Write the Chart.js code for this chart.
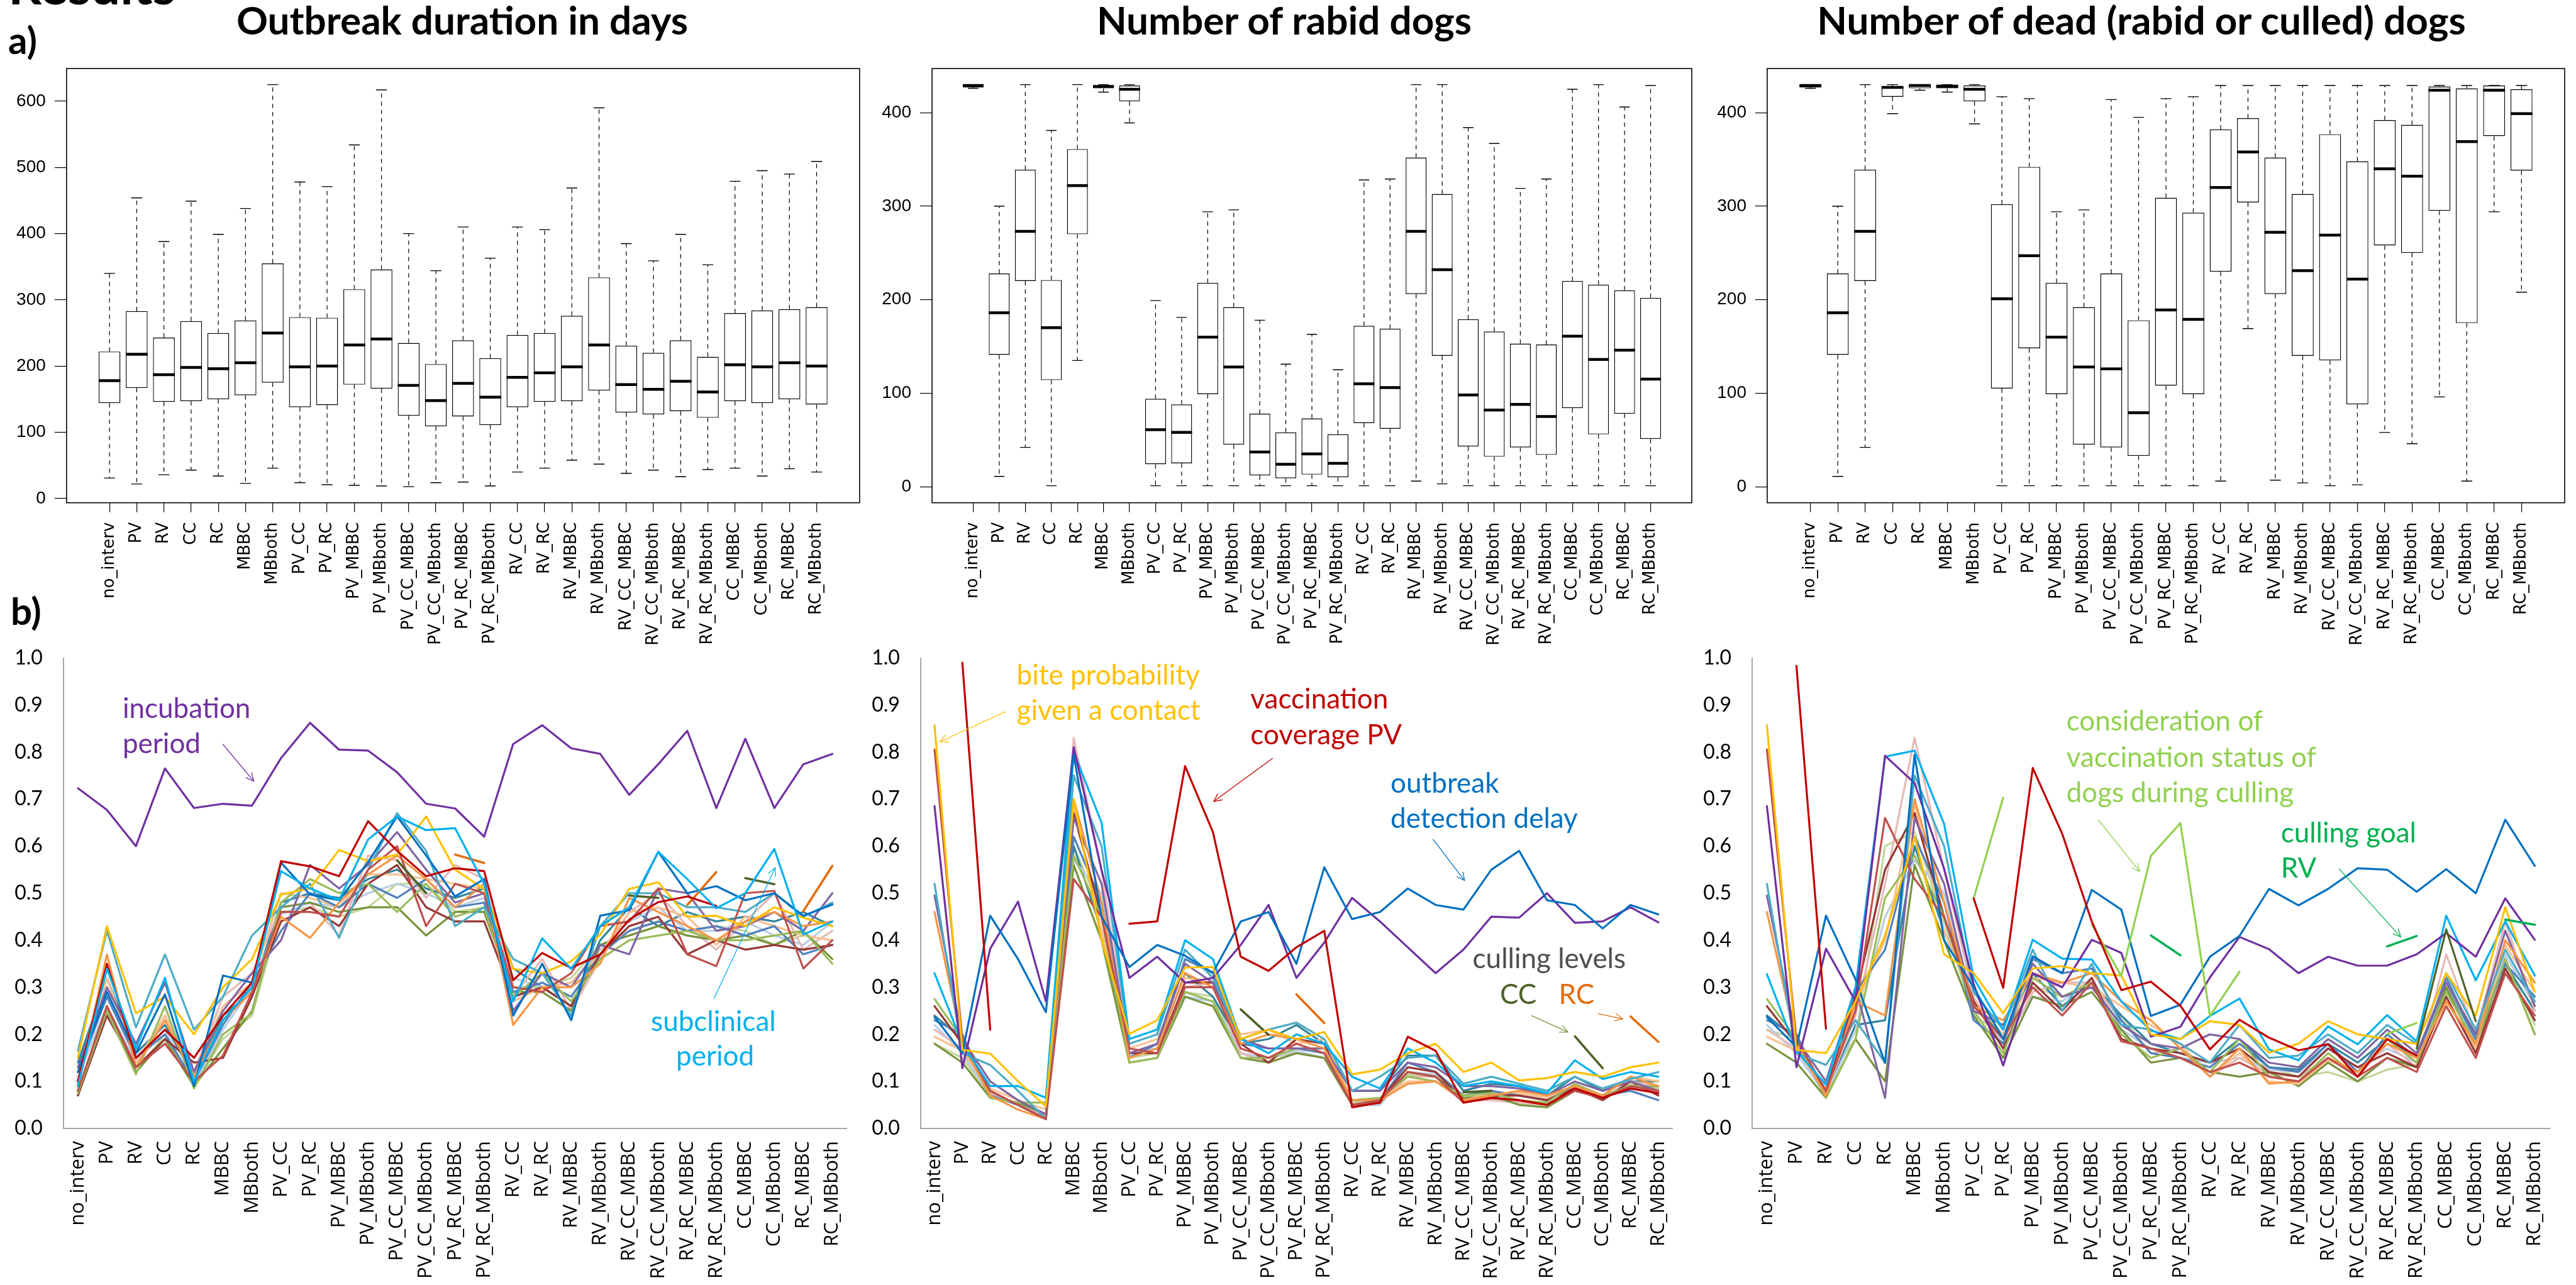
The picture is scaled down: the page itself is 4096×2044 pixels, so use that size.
<!DOCTYPE html>
<html>
<head>
<meta charset="utf-8">
<script src="https://cdn.jsdelivr.net/npm/chart.js"></script>
<style>
  body { margin:0; width:4096px; height:2044px; position:relative; background:#fff; overflow:hidden; }
  canvas { position:absolute; }
  .lbl { position:absolute; font-family:Lato; font-weight:700; color:#000; line-height:1; white-space:nowrap; }
  .ttl { position:absolute; font-family:Lato; font-weight:700; color:#000; line-height:1; white-space:nowrap; text-align:center; width:1400px; font-size:62px; top:0px; }
</style>
</head>
<body>
<div class="lbl" style="left:13px;top:-66px;font-size:83px">Results</div>
<div class="lbl" style="left:13px;top:33px;font-size:60px">a)</div>
<div class="lbl" style="left:17px;top:941px;font-size:60px">b)</div>
<div class="ttl" style="left:35px">Outbreak duration in days</div>
<div class="ttl" style="left:1342px">Number of rabid dogs</div>
<div class="ttl" style="left:2705px">Number of dead (rabid or culled) dogs</div>

<canvas id="c1" width="1420" height="1000" style="left:0px;top:60px"></canvas>
<canvas id="c2" width="1370" height="1000" style="left:1380px;top:60px"></canvas>
<canvas id="c3" width="1376" height="1000" style="left:2720px;top:60px"></canvas>
<canvas id="c4" width="1380" height="1044" style="left:0px;top:1000px"></canvas>
<canvas id="c5" width="1340" height="1044" style="left:1370px;top:1000px"></canvas>
<canvas id="c6" width="1396" height="1044" style="left:2700px;top:1000px"></canvas>

<script>
const categories = ['no_interv','PV','RV','CC','RC','MBBC','MBboth','PV_CC','PV_RC','PV_MBBC','PV_MBboth',
  'PV_CC_MBBC','PV_CC_MBboth','PV_RC_MBBC','PV_RC_MBboth','RV_CC','RV_RC','RV_MBBC','RV_MBboth',
  'RV_CC_MBBC','RV_CC_MBboth','RV_RC_MBBC','RV_RC_MBboth','CC_MBBC','CC_MBboth','RC_MBBC','RC_MBboth'];

// a) box plots: whisker low, lower quartile, median, upper quartile, whisker high
const durLow  = [31,22,36,43,34,23,46,24,21,20,19,18,24,25,19,40,46,58,52,38,43,33,44,46,34,45,40];
const durQ1   = [144,167,146,147,150,156,175,138,141,172,166,125,109,124,111,138,146,147,163,130,127,132,122,147,144,150,142];
const durMed  = [178,218,187,198,196,205,250,199,200,232,241,171,148,174,153,183,190,199,232,172,165,177,161,202,199,205,200];
const durQ3   = [222,283,243,268,250,269,355,274,273,316,346,235,203,239,212,247,250,276,334,231,220,239,214,280,284,286,289];
const durHigh = [340,454,388,449,399,438,625,478,471,534,617,400,344,410,363,410,406,469,590,385,359,399,353,479,495,490,509];
const durTicks = [0,100,200,300,400,500,600];

const rabLow  = [426,11,42,1,135,422,389,1,1,1,1,1,1,1,1,1,1,6,3,1,1,1,1,1,1,1,1];
const rabQ1   = [427,141,220,114,270,426,412,24,25,99,45,12,9,13,10,68,62,206,140,43,32,42,34,84,56,78,51];
const rabMed  = [429,186,273,170,322,428,425,61,58,160,128,37,24,35,25,110,106,273,232,98,82,88,75,161,136,146,115];
const rabQ3   = [430,228,339,221,361,429,429,94,88,218,192,78,58,73,56,172,169,352,313,179,166,153,152,220,216,210,202];
const rabHigh = [430,300,430,381,430,430,430,199,181,294,296,178,131,163,125,328,329,430,430,384,367,319,329,425,430,406,429];

const deadLow  = [426,11,42,399,424,422,388,1,1,1,1,1,1,1,1,6,169,7,4,1,2,58,46,96,6,294,208];
const deadQ1   = [427,141,220,417,426,426,412,105,148,99,45,42,33,108,99,230,304,206,140,135,88,258,250,295,175,375,338];
const deadMed  = [429,186,273,427,429,428,425,201,247,160,128,126,79,189,179,320,358,272,231,269,222,340,332,424,369,424,399];
const deadQ3   = [430,228,339,428,430,430,429,302,342,218,192,228,178,309,293,382,394,352,313,377,348,392,387,428,426,429,425];
const deadHigh = [430,300,430,430,430,430,430,417,415,294,296,414,395,415,417,429,429,429,429,429,429,429,429,429,429,429,429];
const dogTicks = [0,100,200,300,400];

// b) sensitivity lines, outbreak duration
const durIncub = [0.723,0.677,0.600,0.765,0.681,0.690,0.686,0.787,0.862,0.805,0.803,0.757,0.690,0.680,0.620,0.817,0.857,0.808,0.796,0.709,0.774,0.845,0.681,0.828,0.681,0.774,0.796];
const durSubcl = [0.09,0.34,0.17,0.32,0.10,0.23,0.30,0.547,0.51,0.485,0.614,0.663,0.634,0.638,0.52,0.27,0.404,0.339,0.43,0.47,0.588,0.53,0.468,0.50,0.594,0.412,0.44];
const durRed   = [0.10,0.35,0.15,0.21,0.15,0.24,0.31,0.568,0.557,0.536,0.653,0.59,0.536,0.553,0.547,0.315,0.373,0.341,0.37,0.444,0.481,0.493,0.473,null,null,null,null];
const durBlue  = [0.12,0.29,0.16,0.285,0.09,0.325,0.31,0.565,0.497,0.485,0.566,0.663,0.58,0.493,0.53,0.24,0.35,0.23,0.452,0.464,0.588,0.50,0.515,0.485,0.50,0.452,0.476];
const durGold  = [0.15,0.43,0.245,0.28,0.20,0.30,0.36,0.497,0.51,0.592,0.568,0.582,0.663,0.55,0.509,0.339,0.33,0.355,0.412,0.509,0.523,0.45,0.452,0.43,0.47,0.448,0.43];
const durCC    = [null,null,null,null,null,null,null,null,null,null,null,0.57,0.50,null,null,null,null,null,null,0.495,0.49,null,null,0.532,0.519,null,null];
const durRC    = [null,null,null,null,null,null,null,null,null,null,null,null,null,0.582,0.564,null,null,null,null,null,null,0.475,0.545,null,null,0.462,0.558];
const dur1  = [0.08,0.26,0.13,0.18,0.10,0.155,0.29,0.46,0.46,0.45,0.55,0.60,0.43,0.52,0.50,0.30,0.29,0.33,0.43,0.44,0.51,0.37,0.345,0.50,0.505,0.34,0.40];
const dur2  = [0.165,0.42,0.215,0.37,0.21,0.28,0.41,0.47,0.52,0.405,0.55,0.67,0.59,0.43,0.47,0.36,0.33,0.24,0.43,0.50,0.50,0.47,0.47,0.46,0.50,0.45,0.48];
const dur3  = [0.09,0.37,0.13,0.23,0.11,0.23,0.29,0.45,0.405,0.48,0.54,0.58,0.53,0.47,0.52,0.22,0.30,0.30,0.35,0.49,0.46,0.43,0.40,0.44,0.46,0.43,0.44];
const dur4  = [0.13,0.30,0.18,0.31,0.12,0.25,0.33,0.40,0.56,0.51,0.56,0.63,0.55,0.48,0.50,0.25,0.33,0.30,0.39,0.37,0.51,0.50,0.42,0.43,0.46,0.42,0.50];
const dur5  = [0.075,0.25,0.115,0.26,0.085,0.20,0.245,0.48,0.53,0.50,0.52,0.46,0.52,0.45,0.47,0.28,0.33,0.27,0.36,0.40,0.41,0.42,0.40,0.40,0.41,0.42,0.35];
const dur6  = [0.07,0.24,0.13,0.19,0.14,0.15,0.28,0.44,0.47,0.43,0.52,0.56,0.47,0.44,0.44,0.28,0.30,0.26,0.37,0.43,0.45,0.37,0.40,0.38,0.39,0.38,0.39];
const dur7  = [0.12,0.28,0.15,0.20,0.10,0.22,0.31,0.42,0.50,0.47,0.52,0.49,0.53,0.47,0.48,0.29,0.31,0.28,0.37,0.42,0.44,0.42,0.43,0.41,0.43,0.37,0.39];
const dur8  = [0.10,0.32,0.14,0.24,0.12,0.26,0.31,0.50,0.49,0.47,0.54,0.54,0.53,0.52,0.51,0.27,0.30,0.31,0.37,0.46,0.47,0.45,0.39,0.45,0.43,0.41,0.40];
const dur9  = [0.08,0.26,0.12,0.19,0.09,0.17,0.25,0.47,0.48,0.46,0.47,0.47,0.41,0.46,0.46,0.29,0.29,0.25,0.39,0.41,0.43,0.41,0.40,0.41,0.39,0.42,0.36];
const dur10 = [0.10,0.32,0.14,0.23,0.12,0.28,0.33,0.47,0.48,0.41,0.58,0.57,0.49,0.56,0.53,0.28,0.36,0.25,0.36,0.46,0.50,0.43,0.38,0.44,0.50,0.38,0.42];
const dur11 = [0.11,0.26,0.14,0.21,0.09,0.21,0.30,0.455,0.48,0.47,0.50,0.52,0.50,0.47,0.49,0.32,0.30,0.31,0.38,0.44,0.47,0.42,0.42,0.44,0.41,0.39,0.44];
const dur12 = [0.14,0.32,0.16,0.22,0.11,0.24,0.29,0.48,0.50,0.49,0.53,0.55,0.51,0.49,0.51,0.34,0.30,0.26,0.40,0.47,0.43,0.46,0.44,0.45,0.44,0.46,0.43];
const dur13 = [0.07,0.25,0.12,0.20,0.09,0.19,0.24,0.46,0.47,0.45,0.47,0.52,0.52,0.46,0.47,0.30,0.30,0.32,0.39,0.42,0.44,0.42,0.43,0.42,0.39,0.41,0.40];

// b) sensitivity lines, number of rabid dogs
const rabGold   = [0.857,0.167,0.159,0.10,0.047,0.70,0.40,0.201,0.23,0.342,0.343,0.19,0.21,0.19,0.205,0.115,0.125,0.16,0.18,0.12,0.14,0.102,0.107,0.12,0.11,0.13,0.14];
const rabRed    = [null,0.99,0.21,null,null,null,null,0.435,0.44,0.77,0.63,0.365,0.335,0.385,0.42,0.045,0.055,0.195,0.165,0.055,0.065,0.06,0.05,0.085,0.065,0.085,0.075];
const rabBlue   = [0.237,0.16,0.452,0.36,0.247,0.795,0.45,0.343,0.39,0.367,0.331,0.44,0.46,0.35,0.555,0.445,0.46,0.51,0.475,0.465,0.55,0.59,0.485,0.475,0.425,0.475,0.455];
const rabPurple = [0.685,0.128,0.382,0.482,0.27,0.81,0.549,0.32,0.365,0.31,0.32,0.39,0.475,0.32,0.395,0.49,0.44,0.385,0.33,0.38,0.45,0.448,0.50,0.437,0.44,0.47,0.438];
const rabSubcl  = [0.33,0.18,0.09,0.09,0.065,0.80,0.65,0.19,0.21,0.40,0.36,0.19,0.16,0.20,0.18,0.11,0.085,0.17,0.14,0.09,0.10,0.09,0.075,0.145,0.105,0.12,0.11];
const rabCC     = [null,null,null,null,null,null,null,null,null,null,null,0.253,0.199,null,null,null,null,null,null,0.077,0.08,null,null,0.196,0.128,null,null];
const rabRC     = [null,null,null,null,null,null,null,null,null,null,null,null,null,0.285,0.224,null,null,null,null,null,null,null,null,null,null,0.238,0.184];
const rab1  = [0.805,0.19,0.08,0.05,0.02,0.53,0.45,0.17,0.16,0.30,0.30,0.17,0.15,0.18,0.16,0.05,0.06,0.12,0.11,0.055,0.065,0.06,0.05,0.08,0.065,0.09,0.08];
const rab2  = [0.52,0.16,0.135,0.08,0.02,0.75,0.60,0.18,0.20,0.38,0.32,0.19,0.21,0.225,0.19,0.08,0.11,0.15,0.155,0.095,0.11,0.095,0.08,0.11,0.085,0.105,0.12];
const rab3  = [0.46,0.18,0.07,0.04,0.02,0.70,0.48,0.15,0.17,0.33,0.30,0.18,0.20,0.19,0.17,0.06,0.06,0.095,0.10,0.06,0.07,0.08,0.07,0.09,0.07,0.11,0.09];
const rab4  = [0.495,0.19,0.10,0.06,0.03,0.66,0.52,0.16,0.18,0.35,0.31,0.19,0.17,0.17,0.17,0.08,0.08,0.14,0.13,0.09,0.09,0.085,0.07,0.10,0.08,0.10,0.08];
const rab5  = [0.275,0.19,0.065,0.055,0.055,0.58,0.45,0.14,0.15,0.29,0.27,0.15,0.15,0.17,0.17,0.06,0.065,0.11,0.10,0.07,0.075,0.06,0.055,0.095,0.07,0.09,0.09];
const rab6  = [0.26,0.18,0.08,0.05,0.02,0.67,0.45,0.16,0.16,0.31,0.31,0.18,0.14,0.19,0.18,0.05,0.06,0.13,0.12,0.06,0.07,0.07,0.06,0.085,0.06,0.10,0.07];
const rab7  = [0.23,0.20,0.07,0.05,0.02,0.62,0.48,0.15,0.18,0.36,0.33,0.18,0.17,0.17,0.16,0.06,0.06,0.14,0.12,0.07,0.08,0.07,0.06,0.09,0.07,0.08,0.06];
const rab8  = [0.195,0.165,0.085,0.06,0.04,0.69,0.42,0.17,0.19,0.32,0.31,0.20,0.21,0.18,0.19,0.06,0.065,0.10,0.10,0.06,0.075,0.075,0.065,0.09,0.07,0.11,0.10];
const rab9  = [0.18,0.14,0.065,0.055,0.03,0.56,0.40,0.14,0.15,0.28,0.26,0.15,0.14,0.16,0.15,0.05,0.055,0.12,0.11,0.065,0.07,0.05,0.045,0.08,0.065,0.09,0.09];
const rab10 = [0.21,0.17,0.075,0.05,0.025,0.83,0.55,0.16,0.17,0.30,0.31,0.16,0.14,0.16,0.15,0.05,0.055,0.11,0.11,0.06,0.06,0.055,0.05,0.09,0.065,0.10,0.09];
const rab11 = [0.22,0.16,0.07,0.05,0.02,0.57,0.50,0.155,0.18,0.28,0.27,0.16,0.15,0.165,0.15,0.05,0.05,0.12,0.115,0.06,0.07,0.06,0.05,0.085,0.07,0.085,0.08];
const rab12 = [0.24,0.19,0.075,0.05,0.025,0.60,0.42,0.16,0.17,0.33,0.28,0.18,0.19,0.22,0.18,0.08,0.08,0.155,0.155,0.08,0.095,0.09,0.07,0.11,0.08,0.10,0.10];
const rab13 = [0.18,0.15,0.07,0.05,0.03,0.60,0.46,0.15,0.16,0.29,0.28,0.16,0.15,0.16,0.15,0.055,0.055,0.115,0.11,0.06,0.065,0.055,0.05,0.085,0.065,0.095,0.085];

// b) sensitivity lines, number of dead dogs
const deadGold   = [0.857,0.167,0.16,0.27,0.41,0.62,0.37,0.33,0.245,0.34,0.345,0.33,0.325,0.20,0.19,0.228,0.22,0.161,0.18,0.228,0.20,0.19,0.18,0.33,0.24,0.47,0.29];
const deadRed    = [null,0.983,0.212,null,null,null,null,0.489,0.299,0.766,0.626,0.44,0.294,0.312,0.261,0.168,0.231,0.193,0.166,0.179,0.11,0.19,0.155,null,null,null,null];
const deadBlue   = [0.237,0.173,0.452,0.317,0.139,0.794,0.40,0.30,0.19,0.366,0.33,0.507,0.465,0.239,0.263,0.365,0.409,0.509,0.474,0.509,0.553,0.550,0.503,0.551,0.50,0.656,0.558];
const deadPurple = [0.685,0.13,0.382,0.27,0.792,0.734,0.552,0.307,0.134,0.33,0.30,0.401,0.373,0.195,0.216,0.321,0.407,0.381,0.330,0.365,0.346,0.346,0.370,0.415,0.365,0.489,0.401];
const deadSubcl  = [0.328,0.165,0.093,0.30,0.79,0.803,0.647,0.32,0.21,0.401,0.361,0.359,0.27,0.208,0.19,0.239,0.276,0.168,0.145,0.217,0.179,0.241,0.185,0.452,0.315,0.44,0.325];
const deadVacc   = [null,null,null,null,null,null,null,0.489,0.703,null,null,0.434,0.324,0.579,0.649,0.239,0.333,null,null,null,null,0.201,0.224,null,null,null,null];
const deadGoal   = [null,null,null,null,null,null,null,null,null,null,null,null,null,0.41,0.368,null,null,null,null,null,null,0.387,0.409,null,null,0.444,0.433];
const deadCC     = [null,null,null,null,null,null,null,null,null,null,null,null,null,null,null,null,null,null,null,null,null,null,0.17,0.423,0.228,null,null];
const dead1  = [0.805,0.19,0.08,0.25,0.66,0.53,0.45,0.26,0.19,0.30,0.24,0.31,0.185,0.17,0.15,0.12,0.14,0.11,0.10,0.15,0.11,0.15,0.12,0.26,0.15,0.33,0.24];
const dead2  = [0.52,0.16,0.135,0.23,0.14,0.75,0.60,0.29,0.21,0.38,0.25,0.35,0.22,0.21,0.18,0.14,0.22,0.15,0.155,0.20,0.16,0.22,0.18,0.33,0.21,0.38,0.27];
const dead3  = [0.46,0.18,0.07,0.27,0.24,0.70,0.48,0.26,0.23,0.33,0.31,0.33,0.27,0.23,0.17,0.11,0.17,0.095,0.10,0.15,0.12,0.18,0.15,0.27,0.18,0.40,0.31];
const dead4  = [0.495,0.19,0.10,0.30,0.065,0.66,0.52,0.25,0.22,0.35,0.28,0.30,0.22,0.18,0.17,0.20,0.19,0.14,0.13,0.19,0.15,0.21,0.16,0.31,0.20,0.42,0.26];
const dead5  = [0.275,0.19,0.065,0.19,0.49,0.58,0.45,0.25,0.16,0.32,0.28,0.31,0.20,0.15,0.17,0.12,0.19,0.11,0.10,0.16,0.11,0.19,0.14,0.29,0.18,0.36,0.20];
const dead6  = [0.26,0.18,0.08,0.28,0.55,0.67,0.45,0.27,0.17,0.31,0.25,0.32,0.19,0.17,0.16,0.14,0.17,0.12,0.11,0.17,0.13,0.16,0.13,0.28,0.16,0.34,0.23];
const dead7  = [0.23,0.20,0.07,0.29,0.38,0.62,0.48,0.23,0.18,0.36,0.33,0.34,0.23,0.16,0.15,0.13,0.18,0.13,0.12,0.18,0.12,0.20,0.15,0.32,0.19,0.35,0.28];
const dead8  = [0.195,0.165,0.085,0.26,0.40,0.69,0.42,0.27,0.20,0.32,0.31,0.30,0.26,0.22,0.18,0.11,0.16,0.10,0.095,0.145,0.12,0.19,0.14,0.27,0.17,0.39,0.29];
const dead9  = [0.18,0.14,0.065,0.19,0.10,0.56,0.40,0.24,0.15,0.28,0.26,0.29,0.21,0.14,0.15,0.12,0.11,0.12,0.09,0.14,0.10,0.15,0.13,0.30,0.17,0.36,0.20];
const dead10 = [0.21,0.17,0.075,0.24,0.52,0.83,0.55,0.28,0.17,0.29,0.31,0.31,0.23,0.16,0.17,0.11,0.15,0.115,0.11,0.15,0.11,0.18,0.13,0.37,0.20,0.44,0.25];
const dead11 = [0.22,0.16,0.07,0.21,0.45,0.57,0.50,0.27,0.18,0.28,0.27,0.32,0.21,0.17,0.15,0.14,0.15,0.125,0.12,0.17,0.13,0.17,0.14,0.30,0.18,0.37,0.26];
const dead12 = [0.24,0.19,0.075,0.22,0.23,0.60,0.42,0.27,0.19,0.33,0.26,0.31,0.24,0.18,0.16,0.14,0.19,0.13,0.125,0.18,0.14,0.19,0.15,0.30,0.19,0.35,0.25];
const dead13 = [0.21,0.19,0.10,0.19,0.60,0.63,0.44,0.24,0.20,0.30,0.28,0.30,0.24,0.16,0.15,0.14,0.15,0.13,0.11,0.12,0.10,0.125,0.136,0.30,0.20,0.36,0.22];
const shareTicks = [0,0.1,0.2,0.3,0.4,0.5,0.6,0.7,0.8,0.9,1.0];

const bulkColors = ['#C0504D','#4BACC6','#F79646','#8064A2','#9BBB59','#953735','#4F81BD','#FAC090','#77933C','#E6B9B8','#B9CDE5','#31859C','#C3D69B'];

// draws whiskers, caps, medians and the plot frame of the R-style box plots
const boxPlugin = {
  id: 'boxWhisker',
  beforeDatasetsDraw(chart) {
    const ds = chart.data.datasets[0], meta = chart.getDatasetMeta(0), y = chart.scales.y, ctx = chart.ctx;
    ctx.save();
    ctx.strokeStyle = '#000';
    meta.data.forEach((bar, i) => {
      const x = bar.x, cap = bar.width * 0.25;
      const pLow = y.getPixelForValue(ds.low[i]), pHigh = y.getPixelForValue(ds.high[i]);
      const pQ1 = y.getPixelForValue(ds.q1[i]), pQ3 = y.getPixelForValue(ds.q3[i]);
      ctx.lineWidth = 1.2;
      ctx.setLineDash([7, 6]);
      ctx.beginPath();
      ctx.moveTo(x, pQ3); ctx.lineTo(x, pHigh);
      ctx.moveTo(x, pQ1); ctx.lineTo(x, pLow);
      ctx.stroke();
      ctx.setLineDash([]);
      ctx.lineWidth = 1.4;
      ctx.beginPath();
      ctx.moveTo(x - cap, pHigh); ctx.lineTo(x + cap, pHigh);
      ctx.moveTo(x - cap, pLow); ctx.lineTo(x + cap, pLow);
      ctx.stroke();
    });
    ctx.restore();
  },
  afterDatasetsDraw(chart) {
    const ds = chart.data.datasets[0], meta = chart.getDatasetMeta(0), y = chart.scales.y, ctx = chart.ctx;
    const a = chart.chartArea;
    ctx.save();
    ctx.strokeStyle = '#000';
    ctx.lineWidth = 4.5;
    ctx.lineCap = 'butt';
    meta.data.forEach((bar, i) => {
      const pm = y.getPixelForValue(ds.med[i]);
      ctx.beginPath();
      ctx.moveTo(bar.x - bar.width / 2, pm); ctx.lineTo(bar.x + bar.width / 2, pm);
      ctx.stroke();
    });
    ctx.lineWidth = 1.6;
    ctx.strokeRect(a.left, a.top, a.right - a.left, a.bottom - a.top);
    ctx.restore();
  }
};

function boxChart(id, low, q1, med, q3, high, yMin, yMax, yTicks, g) {
  return new Chart(document.getElementById(id), {
    type: 'bar',
    data: { datasets: [{
      data: q1.map((v, i) => ({ x: i, y: [v, q3[i]] })),
      low: low, q1: q1, med: med, q3: q3, high: high,
      backgroundColor: '#fff', borderColor: '#000', borderWidth: 1.4, borderSkipped: false,
      barPercentage: 0.8, categoryPercentage: 1
    }]},
    options: {
      responsive: false, animation: false,
      layout: { padding: { top: g.top, right: g.right, left: 0, bottom: 0 } },
      plugins: { legend: { display: false }, tooltip: { enabled: false } },
      scales: {
        x: {
          type: 'linear', min: -1.58, max: 27.58, offset: false,
          afterBuildTicks: s => { s.ticks = categories.map((c, i) => ({ value: i })); },
          afterFit: s => { s.height = g.xh; s.paddingLeft = 0; s.paddingRight = 0; },
          grid: { display: true, drawOnChartArea: false, drawTicks: true, tickLength: 15, color: '#000', lineWidth: 1.2, offset: false },
          border: { display: false },
          ticks: { autoSkip: false, minRotation: 90, maxRotation: 90, padding: 16, color: '#000',
                   font: { family: "'DejaVu Sans', Verdana, sans-serif", size: 26 }, callback: v => categories[v] }
        },
        y: {
          type: 'linear', min: yMin, max: yMax,
          afterBuildTicks: s => { s.ticks = yTicks.map(v => ({ value: v })); },
          afterFit: s => { s.width = g.yw; s.paddingTop = 0; s.paddingBottom = 0; },
          grid: { display: true, drawOnChartArea: false, drawTicks: true, tickLength: 19, color: '#000', lineWidth: 1.2 },
          border: { display: false },
          ticks: { padding: 14, color: '#000', font: { family: "'Liberation Sans', Arial, sans-serif", size: 28 }, callback: v => String(v) }
        }
      }
    },
    plugins: [boxPlugin]
  });
}

// annotation texts and arrows, placed in data units
function notesPlugin(notes) {
  return {
    id: 'notes',
    afterDatasetsDraw(chart) {
      const xs = chart.scales.x, ys = chart.scales.y, ctx = chart.ctx;
      ctx.save();
      notes.arrows.forEach(a => {
        const x1 = xs.getPixelForValue(a.from[0]), y1 = ys.getPixelForValue(a.from[1]);
        const x2 = xs.getPixelForValue(a.to[0]), y2 = ys.getPixelForValue(a.to[1]);
        const ang = Math.atan2(y2 - y1, x2 - x1), h = 14;
        ctx.strokeStyle = a.color; ctx.lineWidth = 1.3;
        ctx.beginPath(); ctx.moveTo(x1, y1); ctx.lineTo(x2, y2); ctx.stroke();
        ctx.beginPath();
        ctx.moveTo(x2 - h * Math.cos(ang - 0.45), y2 - h * Math.sin(ang - 0.45));
        ctx.lineTo(x2, y2);
        ctx.lineTo(x2 - h * Math.cos(ang + 0.45), y2 - h * Math.sin(ang + 0.45));
        ctx.stroke();
      });
      ctx.font = "44px 'Lato'";
      ctx.textBaseline = 'middle';
      notes.texts.forEach(t => {
        ctx.fillStyle = t.color;
        ctx.textAlign = t.align || 'left';
        ctx.fillText(t.text, xs.getPixelForValue(t.at[0]), ys.getPixelForValue(t.at[1]));
      });
      ctx.restore();
    }
  };
}

function lineChart(id, series, g, notes) {
  return new Chart(document.getElementById(id), {
    type: 'line',
    data: {
      labels: categories,
      datasets: series.map(s => ({
        data: s.data, borderColor: s.color, borderWidth: s.w || 3.2, pointRadius: 0, fill: false,
        tension: 0, spanGaps: false, borderJoinStyle: 'round', borderCapStyle: 'round'
      }))
    },
    options: {
      responsive: false, animation: false,
      layout: { padding: { top: g.top, right: g.right, left: 0, bottom: 0 } },
      plugins: { legend: { display: false }, tooltip: { enabled: false } },
      scales: {
        x: {
          offset: true,
          afterFit: s => { s.height = g.xh; s.paddingLeft = 0; s.paddingRight = 0; },
          grid: { display: false, drawTicks: false },
          border: { display: true, color: '#A6A6A6', width: 2 },
          ticks: { autoSkip: false, minRotation: 90, maxRotation: 90, padding: 20, color: '#000',
                   font: { family: "'Open Sans', sans-serif", size: 31 } }
        },
        y: {
          min: 0, max: 1,
          afterBuildTicks: s => { s.ticks = shareTicks.map(v => ({ value: v })); },
          afterFit: s => { s.width = g.yw; s.paddingTop = 0; s.paddingBottom = 0; },
          grid: { display: false, drawTicks: false },
          border: { display: true, color: '#A6A6A6', width: 2 },
          ticks: { padding: 33, color: '#000', font: { family: "'Lato', sans-serif", size: 32 }, callback: v => v.toFixed(1) }
        }
      }
    },
    plugins: [notesPlugin(notes)]
  });
}

function withBulk(highlights, bulk) {
  return highlights.concat(bulk.map((d, i) => ({ data: d, color: bulkColors[i] })));
}

boxChart('c1', durLow, durQ1, durMed, durQ3, durHigh, -6.3, 649.3, durTicks, { top: 49, right: 53.2, yw: 105.8, xh: 260.3 });
boxChart('c2', rabLow, rabQ1, rabMed, rabQ3, rabHigh, -17.2, 447.2, dogTicks, { top: 49, right: 60, yw: 102, xh: 260.3 });
boxChart('c3', deadLow, deadQ1, deadMed, deadQ3, deadHigh, -17.2, 447.2, dogTicks, { top: 49, right: 18, yw: 90, xh: 260.3 });

lineChart('c4', withBulk([
  { data: durIncub, color: '#7030A0' },
  { data: durSubcl, color: '#00B0F0' },
  { data: durRed, color: '#C00000' },
  { data: durCC, color: '#4F6228', w: 3.6 },
  { data: durRC, color: '#E46C0A', w: 3.6 },
  { data: durBlue, color: '#0070C0' },
  { data: durGold, color: '#FFC000' }
], [dur1, dur2, dur3, dur4, dur5, dur6, dur7, dur8, dur9, dur10, dur11, dur12, dur13]),
  { top: 46.5, right: 33.4, yw: 100.8, xh: 249 },
  { texts: [
      { text: 'incubation', at: [1.54, 0.891], color: '#7030A0' },
      { text: 'period', at: [1.54, 0.817], color: '#7030A0' },
      { text: 'subclinical', at: [21.9, 0.226], color: '#00B0F0', align: 'center' },
      { text: 'period', at: [21.96, 0.152], color: '#00B0F0', align: 'center' }
    ],
    arrows: [
      { from: [4.99, 0.817], to: [6.06, 0.738], color: '#7030A0' },
      { from: [21.92, 0.276], to: [24.03, 0.554], color: '#00B0F0' }
    ] });

lineChart('c5', withBulk([
  { data: rabRed, color: '#C00000' },
  { data: rabGold, color: '#FFC000' },
  { data: rabBlue, color: '#0070C0' },
  { data: rabPurple, color: '#7030A0' },
  { data: rabCC, color: '#4F6228', w: 3.6 },
  { data: rabRC, color: '#E46C0A', w: 3.6 },
  { data: rabSubcl, color: '#00B0F0' }
], [rab1, rab2, rab3, rab4, rab5, rab6, rab7, rab8, rab9, rab10, rab11, rab12, rab13]),
  { top: 46.5, right: 51, yw: 93.8, xh: 249 },
  { texts: [
      { text: 'bite probability', at: [2.95, 0.962], color: '#FFC000' },
      { text: 'given a contact', at: [2.95, 0.887], color: '#FFC000' },
      { text: 'vaccination', at: [11.35, 0.911], color: '#C00000' },
      { text: 'coverage PV', at: [11.35, 0.835], color: '#C00000' },
      { text: 'outbreak', at: [16.38, 0.733], color: '#0070C0' },
      { text: 'detection delay', at: [16.38, 0.658], color: '#0070C0' },
      { text: 'culling levels', at: [19.33, 0.359], color: '#4D4D4D' },
      { text: 'CC', at: [20.31, 0.284], color: '#4F6228' },
      { text: 'RC', at: [22.42, 0.284], color: '#E46C0A' }
    ],
    arrows: [
      { from: [2.56, 0.886], to: [0.2, 0.822], color: '#FFC000' },
      { from: [12.15, 0.787], to: [10.03, 0.695], color: '#C00000' },
      { from: [17.9, 0.615], to: [19.04, 0.527], color: '#0070C0' },
      { from: [21.44, 0.240], to: [22.75, 0.205], color: '#77933C' },
      { from: [23.83, 0.244], to: [24.72, 0.233], color: '#E46C0A' }
    ] });

lineChart('c6', withBulk([
  { data: deadRed, color: '#C00000' },
  { data: deadVacc, color: '#92D050' },
  { data: deadGoal, color: '#00B050', w: 3.6 },
  { data: deadCC, color: '#4F6228' },
  { data: deadGold, color: '#FFC000' },
  { data: deadBlue, color: '#0070C0' },
  { data: deadPurple, color: '#7030A0' },
  { data: deadSubcl, color: '#00B0F0' }
], [dead1, dead2, dead3, dead4, dead5, dead6, dead7, dead8, dead9, dead10, dead11, dead12, dead13]),
  { top: 46.5, right: 42, yw: 86, xh: 249 },
  { texts: [
      { text: 'consideration of', at: [10.14, 0.864], color: '#92D050' },
      { text: 'vaccination status of', at: [10.14, 0.787], color: '#92D050' },
      { text: 'dogs during culling', at: [10.14, 0.712], color: '#92D050' },
      { text: 'culling goal', at: [17.40, 0.627], color: '#00B050' },
      { text: 'RV', at: [17.40, 0.552], color: '#00B050' }
    ],
    arrows: [
      { from: [11.22, 0.656], to: [12.62, 0.546], color: '#92D050' },
      { from: [19.37, 0.552], to: [21.46, 0.407], color: '#00B050' }
    ] });
</script>
</body>
</html>
